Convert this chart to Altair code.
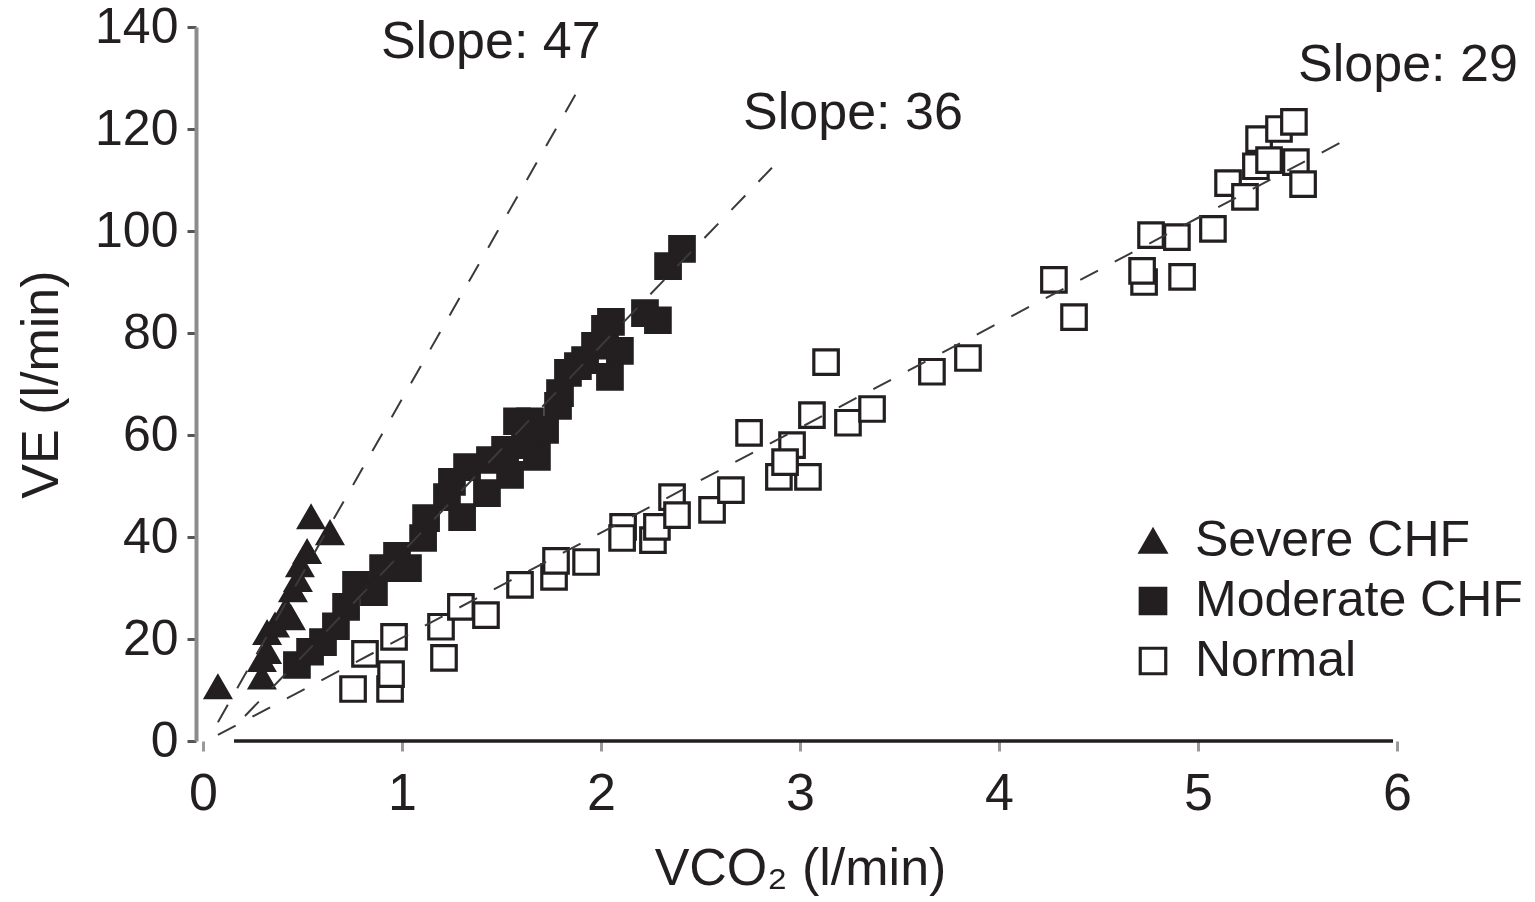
import altair as alt
import pandas as pd

INK = "#231f20"
FONT = "Liberation Sans"
FS = 52

groups = ["Severe CHF", "Moderate CHF", "Normal"]

severe_x = [0.075, 0.296, 0.296, 0.322, 0.322, 0.362, 0.417, 0.442, 0.452, 0.477, 0.487, 0.523, 0.543, 0.638]
severe_y = [10.6, 12.5, 15.9, 17.5, 21.2, 22.7, 25.7, 24.1, 29.6, 31.6, 34.5, 37.1, 43.9, 40.8]

moderate_x = [0.472, 0.538, 0.603, 0.668, 0.719, 0.769, 0.859, 0.905, 0.975, 1.030, 1.106, 1.121,
              1.226, 1.251, 1.302, 1.327, 1.427, 1.442, 1.543, 1.578, 1.643, 1.678, 1.784, 1.794,
              1.834, 1.884, 1.920, 1.970, 2.045, 2.095, 2.020, 2.050, 2.221, 2.286, 2.337, 2.407,
              1.518, 1.618, 1.719]
moderate_y = [14.9, 17.5, 19.4, 22.5, 26.3, 30.6, 29.2, 33.9, 36.3, 33.9, 39.8, 43.7,
              47.8, 50.8, 43.9, 53.7, 48.6, 55.1, 52.2, 62.7, 62.7, 55.7, 65.7, 68.2,
              72.2, 73.5, 74.7, 77.5, 71.4, 76.5, 80.8, 82.2, 83.9, 82.5, 93.1, 96.5,
              57.1, 58.0, 61.0]

normal_x = [0.754, 0.940, 0.945, 0.960, 0.814, 1.196, 1.211, 1.296, 1.422, 1.593, 1.764, 1.774,
            1.925, 2.111, 2.106, 2.261, 2.281, 2.357, 2.382, 2.558, 2.653, 2.744, 2.894, 3.040,
            2.960, 2.925, 3.060, 3.131, 3.241, 3.362, 3.663, 3.844, 4.276, 4.377, 4.729, 4.719,
            4.764, 4.894, 4.920, 5.075, 5.151, 5.236, 5.307, 5.291, 5.407, 5.482, 5.357, 5.492, 5.528]
normal_y = [10.2, 10.2, 13.1, 20.4, 17.1, 22.4, 16.3, 26.3, 24.7, 30.6, 32.2, 35.3,
            35.1, 42.0, 39.8, 39.4, 42.0, 47.8, 44.3, 45.3, 49.2, 60.4, 51.8, 51.8,
            58.0, 54.7, 63.9, 74.3, 62.4, 65.1, 72.4, 75.1, 90.4, 83.1, 90.0, 92.2,
            99.2, 98.8, 91.0, 100.4, 109.4, 106.7, 118.0, 112.7, 120.0, 121.4, 113.9, 113.5, 109.2]

slope_labels = ["Slope: 47", "Slope: 36", "Slope: 29"]
line_x0 = [0.075, 0.211, 0.075]
line_y0 = [3.7, 4.9, 1.2]
line_x1 = [1.884, 2.859, 5.739]
line_y1 = [127.6, 112.4, 117.8]
label_x = [0.894, 2.714, 5.503]
label_y = [133.9, 120.0, 129.4]

x_ticks = [0, 1, 2, 3, 4, 5, 6]
y_ticks = [0, 20, 40, 60, 80, 100, 120, 140]
axis_line_x0 = [0.156]
axis_line_x1 = [5.98]
axis_line_y = [0]

rows = []
for name, xs, ys in [("Normal", normal_x, normal_y),
                     ("Moderate CHF", moderate_x, moderate_y),
                     ("Severe CHF", severe_x, severe_y)]:
    for a, b in zip(xs, ys):
        rows.append({"x": a, "y": b, "group": name})
points = pd.DataFrame(rows)

line_rows = []
for lab, a0, b0, a1, b1 in zip(slope_labels, line_x0, line_y0, line_x1, line_y1):
    line_rows.append({"x": a0, "y": b0, "line": lab})
    line_rows.append({"x": a1, "y": b1, "line": lab})
lines = pd.DataFrame(line_rows)

labels = pd.DataFrame({"x": label_x, "y": label_y, "text": slope_labels})
axis_df = pd.DataFrame({"x": axis_line_x0, "x2": axis_line_x1, "y": axis_line_y})

xscale = alt.Scale(domain=[0, 6], nice=False)
yscale = alt.Scale(domain=[0, 140], nice=False)

X_ENC = alt.X("x:Q", scale=xscale, title="VCO₂ (l/min)",
              axis=alt.Axis(values=x_ticks, domain=False, grid=False, tickSize=10,
                            tickColor="#9a9a9a", tickWidth=3, labelFontSize=FS, labelFont=FONT,
                            labelColor=INK, labelPadding=17, labelFlush=False, format="d",
                            titleFontSize=FS, titleFont=FONT, titleFontWeight="normal",
                            titleColor=INK, titlePadding=24))
Y_ENC = alt.Y("y:Q", scale=yscale, title="VE (l/min)",
              axis=alt.Axis(values=y_ticks, offset=7, domainColor="#8c8c8c", domainWidth=4,
                            grid=False, tickSize=9, tickColor="#555555", tickWidth=3,
                            labelFontSize=50, labelFont=FONT, labelColor=INK, labelPadding=9,
                            labelFlush=False, titleFontSize=FS, titleFont=FONT,
                            titleFontWeight="normal", titleColor=INK, titlePadding=26))

legend = alt.Legend(
    title=None, orient="none", legendX=925, legendY=489,
    labelFontSize=50, labelFont=FONT, labelColor=INK, labelLimit=600,
    symbolSize=650, symbolStrokeWidth=3.2,
    labelOffset=17, rowPadding=10, padding=0,
)

xline = alt.Chart(axis_df).mark_rule(color=INK, strokeWidth=3.5).encode(
    x=X_ENC, x2="x2:Q", y=Y_ENC,
)

pts = alt.Chart(points).mark_point(filled=True, strokeWidth=3.2, opacity=1, size=600).encode(
    x=X_ENC,
    y=Y_ENC,
    shape=alt.Shape("group:N", scale=alt.Scale(domain=groups, range=["triangle-up", "square", "square"]),
                    legend=legend),
    fill=alt.Fill("group:N", scale=alt.Scale(domain=groups, range=[INK, INK, "white"]), legend=legend),
    stroke=alt.Stroke("group:N", scale=alt.Scale(domain=groups, range=[INK, INK, INK]), legend=legend),
)

dash = alt.Chart(lines).mark_line(strokeDash=[20, 19], color="#3a3a3a", strokeWidth=2).encode(
    x=X_ENC, y=Y_ENC, detail="line:N",
)

txt = alt.Chart(labels).mark_text(align="left", baseline="alphabetic", fontSize=FS, font=FONT,
                                  color=INK).encode(
    x=X_ENC, y=Y_ENC, text="text:N",
)

chart = alt.layer(xline, pts, dash, txt).properties(
    width=1194, height=714,
    padding={"left": 203, "top": 27, "right": 138, "bottom": 161},
    autosize=alt.AutoSizeParams(type="none"),
).configure(font=FONT).configure_view(stroke=None)

chart.save("out.html", embed_options={"renderer": "svg", "actions": False})
